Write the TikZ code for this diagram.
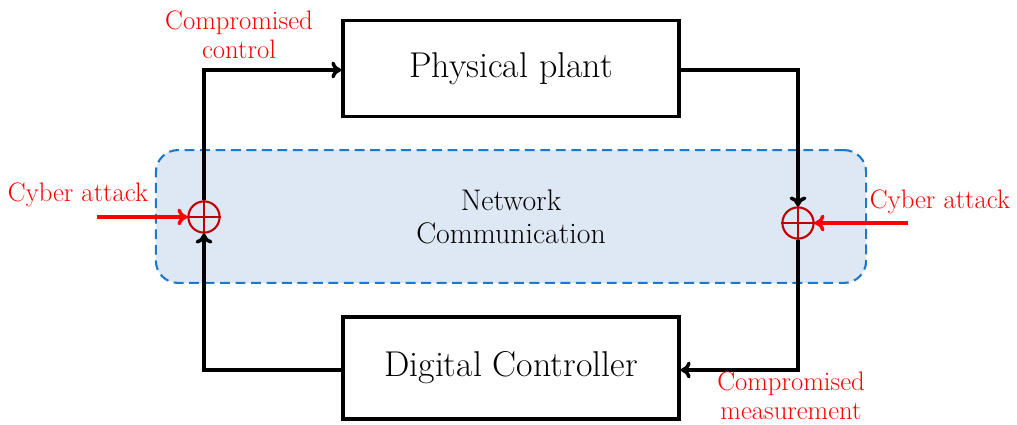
\documentclass[tikz,border=0pt]{standalone}
\usepackage{fontspec}
\usetikzlibrary{arrows.meta,positioning}
\definecolor{netfill}{HTML}{DDE8F4}
\definecolor{netdraw}{HTML}{1F78C8}
\definecolor{sumred}{HTML}{C00000}
\begin{document}
\begin{tikzpicture}[x=0.025cm,y=-0.025cm,
  block/.style={draw=black,line width=2.5pt,minimum width=8.4cm,fill=white,font=\fontsize{25.5}{29}\selectfont},
  sumnode/.style={circle,draw=sumred,line width=1.5pt,minimum size=0.78cm,inner sep=0pt},
  sig/.style={line width=2.5pt,-{To[length=7pt,width=12pt]}},
  atk/.style={draw=red,line width=2.5pt,-{To[length=7pt,width=12pt]}},
  lab/.style={text=red,font=\fontsize{19}{21}\selectfont,align=center},
  netlab/.style={font=\fontsize{21.2}{24}\selectfont,align=center}]
\useasboundingbox (0,0) rectangle (1017,425);
\node[draw=netdraw,fill=netfill,dash pattern=on 7pt off 4pt,line width=1.5pt,rounded corners=0.55cm,minimum width=17.75cm,minimum height=3.32cm] (net) at (511,216.5) {};
\node[netlab] (netl) at (511,217) {Network\\Communication};
\node[block,minimum height=2.4cm] (plant) at (511,68.5) {Physical plant};
\node[block,minimum height=2.55cm] (ctrl) at (511,368) {Digital Controller};
\node[sumnode] (s1) at (204,217) {};
\node[sumnode] (s2) at (798,223) {};
\draw[sumred,line width=1.5pt] (s1.west) -- (s1.east) (s1.north) -- (s1.south);
\draw[sumred,line width=1.5pt] (s2.west) -- (s2.east) (s2.north) -- (s2.south);
\coordinate (c1) at (204,70);
\coordinate (c2) at (798,70);
\coordinate (c3) at (798,370);
\coordinate (c4) at (204,370);
\draw[sig] (ctrl.west |- c4) -- (c4) -- (s1.south);
\draw[sig] (s1.north) -- (c1) -- (plant.west |- c1);
\draw[sig] (plant.east |- c2) -- (c2) -- (s2.north);
\draw[sig] (s2.south) -- (c3) -- (ctrl.east |- c3);
\coordinate (a1) at (97,217);
\coordinate (a2) at (908,223);
\draw[atk] (a1) -- (s1.west);
\draw[atk] (a2) -- (s2.east);
\node[lab] (t1) at (78,195) {Cyber attack};
\node[lab] (t2) at (940,202) {Cyber attack};
\node[lab] (t3) at (239,35) {Compromised\\control};
\node[lab] (t4) at (791,396) {Compromised\\measurement};
\end{tikzpicture}
\end{document}
